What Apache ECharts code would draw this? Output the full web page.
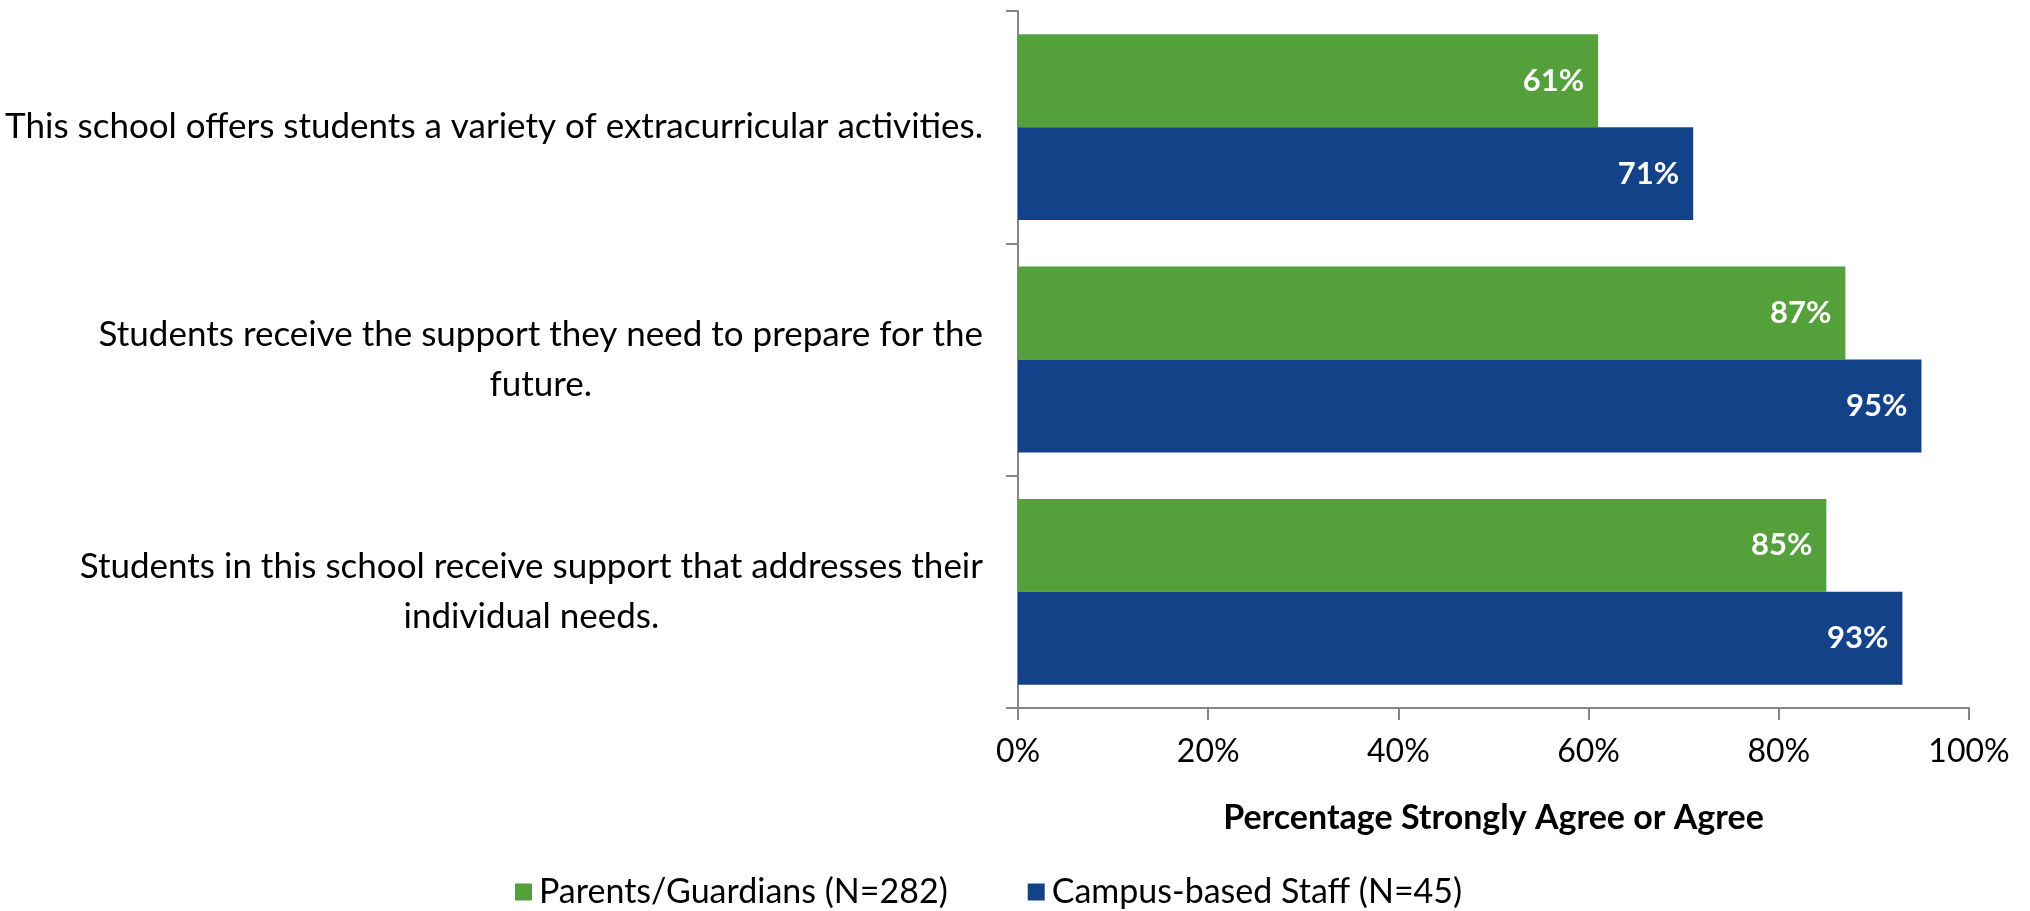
<!DOCTYPE html>
<html>
<head>
<meta charset="utf-8">
<script src="https://cdn.jsdelivr.net/npm/echarts@6/dist/echarts.min.js"></script>
<style>html,body{margin:0;padding:0;background:#fff}#c{width:2030px;height:911px}</style>
</head>
<body>
<div id="c"></div>
<script>
const categories = [
  "This school offers students a variety of extracurricular activities.",
  "Students receive the support they need to prepare for the\nfuture.",
  "Students in this school receive support that addresses their\nindividual needs."
];
const seriesNames = ["Parents/Guardians (N=282)", "Campus-based Staff (N=45)"];
const parentsValues = [61, 87, 85];
const staffValues = [71, 95, 93];
const xTicks = [0, 20, 40, 60, 80, 100];
const axisTitle = "Percentage Strongly Agree or Agree";

const FONT = 'Lato';
const chart = echarts.init(document.getElementById('c'), null, {renderer: 'canvas'});
const labelStyle = {
  show: true, position: 'insideRight', distance: 14,
  formatter: p => p.value + '%', color: '#fff', fontWeight: 'bold', fontSize: 31, fontFamily: FONT
};
chart.setOption({
  animation: false,
  backgroundColor: '#fff',
  grid: {left: 1018, right: 61, top: 11, bottom: 203, containLabel: false},
  legend: {
    left: 510, top: 870, itemWidth: 17, itemHeight: 17, itemGap: 80,
    icon: 'rect',
    textStyle: {fontFamily: FONT, fontSize: 34, color: '#000', padding: [0, 0, 0, 2]},
    data: seriesNames
  },
  xAxis: {
    type: 'value', min: xTicks[0], max: xTicks[xTicks.length - 1], interval: xTicks[1] - xTicks[0],
    name: axisTitle, nameLocation: 'middle', nameGap: 93,
    nameTextStyle: {fontFamily: FONT, fontSize: 34, fontWeight: 'bold', color: '#000'},
    axisLine: {show: true, lineStyle: {color: '#868686', width: 2}},
    axisTick: {show: true, length: 12, lineStyle: {color: '#868686', width: 2}},
    axisLabel: {formatter: '{value}%', fontFamily: FONT, fontSize: 32, color: '#000', margin: 28},
    splitLine: {show: false}
  },
  yAxis: {
    type: 'category', inverse: true, data: categories,
    axisLine: {show: true, lineStyle: {color: '#868686', width: 2}},
    axisTick: {show: true, length: 12, lineStyle: {color: '#868686', width: 2}},
    axisLabel: {
      margin: 35, color: '#000',
      formatter: v => v.split('\n').map(l => '{a|' + l + '}').join('\n'),
      rich: {a: {fontFamily: FONT, fontSize: 35, color: '#000', align: 'center', lineHeight: 50}}
    }
  },
  series: [
    {name: seriesNames[0], type: 'bar', data: parentsValues, barGap: '0%', barCategoryGap: '20%',
     itemStyle: {color: '#54A03A'}, label: labelStyle},
    {name: seriesNames[1], type: 'bar', data: staffValues, barGap: '0%', barCategoryGap: '20%',
     itemStyle: {color: '#134289'}, label: labelStyle}
  ]
});
</script>
</body>
</html>
